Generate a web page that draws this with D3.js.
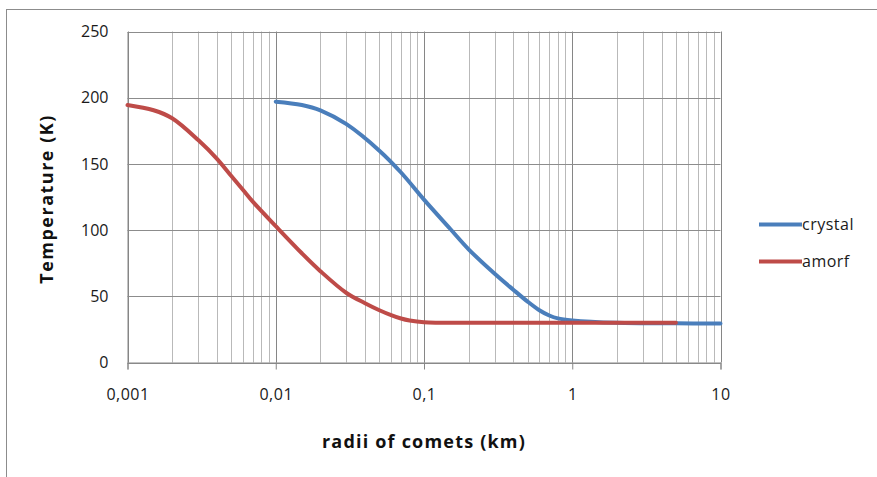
<!DOCTYPE html>
<html>
<head>
<meta charset="utf-8">
<script src="https://cdn.jsdelivr.net/npm/d3@7"></script>
<style>
  html, body { margin: 0; padding: 0; background: #fff; }
  svg { display: block; }
  text { font-family: "Open Sans", Lato, sans-serif; }
</style>
</head>
<body>
<svg id="chart" width="877" height="477"></svg>
<script>
// ---- data ----
const crystalR = [0.01, 0.015, 0.02, 0.03, 0.05, 0.07, 0.1, 0.15, 0.2, 0.3, 0.4, 0.5, 0.6, 0.7, 0.8, 1, 2, 5, 10];
const crystalT = [197, 194.5, 190.5, 180, 160, 143.5, 123, 101, 85.5, 67, 55, 46, 39.5, 35.5, 33.3, 31.8, 30, 29.6, 29.5];
const amorfR = [0.001, 0.0015, 0.002, 0.003, 0.004, 0.005, 0.006, 0.007, 0.01, 0.015, 0.02, 0.03, 0.04, 0.05, 0.06, 0.07, 0.08, 0.1, 0.2, 0.5, 1, 2, 5];
const amorfT = [194.5, 190.5, 184.5, 168, 154, 141, 130.5, 121.5, 103, 82.5, 69, 52.5, 44.8, 39.5, 35.8, 33.2, 31.7, 30.4, 30, 30, 30, 30, 30];
const seriesNames = ["crystal", "amorf"];
const seriesColors = ["#4A7EBB", "#BE4B48"];
const xTickValues = [0.001, 0.01, 0.1, 1, 10];
const xTickLabels = ["0,001", "0,01", "0,1", "1", "10"];
const yTickValues = [0, 50, 100, 150, 200, 250];

const svg = d3.select("#chart");

// outer chart border
svg.append("rect").attr("x", 6.5).attr("y", 9.5).attr("width", 900).attr("height", 500)
  .attr("fill", "none").attr("stroke", "#8c8c8c").attr("stroke-width", 1);

const L = 127.5, R = 720.5, T = 31.5, B = 362.5;
const x = d3.scaleLog().domain([0.001, 10]).range([L, R]);
const y = d3.scaleLinear().domain([0, 250]).range([B, T]);

// minor vertical gridlines
const minor = [];
for (let e = -3; e < 1; e++) for (let m = 2; m <= 9; m++) minor.push(m * Math.pow(10, e));
svg.append("g").selectAll("line").data(minor).join("line")
  .attr("x1", d => Math.round(x(d)) + 0.5).attr("x2", d => Math.round(x(d)) + 0.5)
  .attr("y1", T).attr("y2", B)
  .attr("stroke", "#b9b9b9").attr("stroke-width", 1);

// major vertical gridlines
svg.append("g").selectAll("line").data(xTickValues).join("line")
  .attr("x1", d => Math.round(x(d)) + 0.5).attr("x2", d => Math.round(x(d)) + 0.5)
  .attr("y1", T).attr("y2", B)
  .attr("stroke", "#868686").attr("stroke-width", 1);

// horizontal gridlines
svg.append("g").selectAll("line").data(yTickValues).join("line")
  .attr("x1", L).attr("x2", R)
  .attr("y1", d => Math.round(y(d)) + 0.5).attr("y2", d => Math.round(y(d)) + 0.5)
  .attr("stroke", "#8c8c8c").attr("stroke-width", 1);

// x axis
const xAxis = d3.axisBottom(x).tickValues(xTickValues)
  .tickFormat((d, i) => xTickLabels[i]).tickSize(7).tickPadding(19);
const gx = svg.append("g").attr("transform", `translate(0,${B})`).call(xAxis);
gx.select(".domain").attr("stroke", "#868686");
gx.selectAll(".tick line").attr("stroke", "#868686");
gx.selectAll("text").attr("font-size", 16).attr("fill", "#1a1a1a")
  .style("font-family", "'Open Sans', sans-serif").style("letter-spacing", "0.5px");

// y axis
const yAxis = d3.axisLeft(y).tickValues(yTickValues).tickSize(0).tickPadding(19);
const gy = svg.append("g").attr("transform", `translate(${L},0)`).call(yAxis);
gy.select(".domain").attr("stroke", "#868686");
gy.selectAll("text").attr("font-size", 16).attr("fill", "#1a1a1a")
  .style("font-family", "'Open Sans', sans-serif");

// lines
const line = d3.line().x(d => x(d[0])).y(d => y(d[1])).curve(d3.curveCatmullRom.alpha(0.5));
const series = [
  crystalR.map((r, i) => [r, crystalT[i]]),
  amorfR.map((r, i) => [r, amorfT[i]])
];
svg.append("g").selectAll("path").data(series).join("path")
  .attr("d", line)
  .attr("fill", "none")
  .attr("stroke", (d, i) => seriesColors[i])
  .attr("stroke-width", 4)
  .attr("stroke-linecap", "round").attr("stroke-linejoin", "round");

// legend
const lg = svg.append("g");
seriesNames.forEach((n, i) => {
  const ly = 224.5 + i * 37;
  lg.append("line").attr("x1", 759).attr("x2", 802).attr("y1", ly).attr("y2", ly)
    .attr("stroke", seriesColors[i]).attr("stroke-width", 4);
  lg.append("text").attr("x", 802).attr("y", ly).attr("dy", "0.35em")
    .attr("font-size", 16).style("letter-spacing", "0.5px").attr("fill", "#1a1a1a").text(n);
});

// axis titles
svg.append("text").attr("x", 424).attr("y", 442).attr("dy", "0.35em")
  .attr("text-anchor", "middle").attr("font-size", 18).attr("font-weight", "bold")
  .style("letter-spacing", "1.2px")
  .attr("fill", "#111").text("radii of comets (km)");
svg.append("text").attr("transform", "translate(47,199) rotate(-90)")
  .attr("dy", "0.35em").attr("text-anchor", "middle").attr("font-size", 18)
  .attr("font-weight", "bold").style("letter-spacing", "1.5px")
  .attr("fill", "#111").text("Temperature (K)");
</script>
</body>
</html>
